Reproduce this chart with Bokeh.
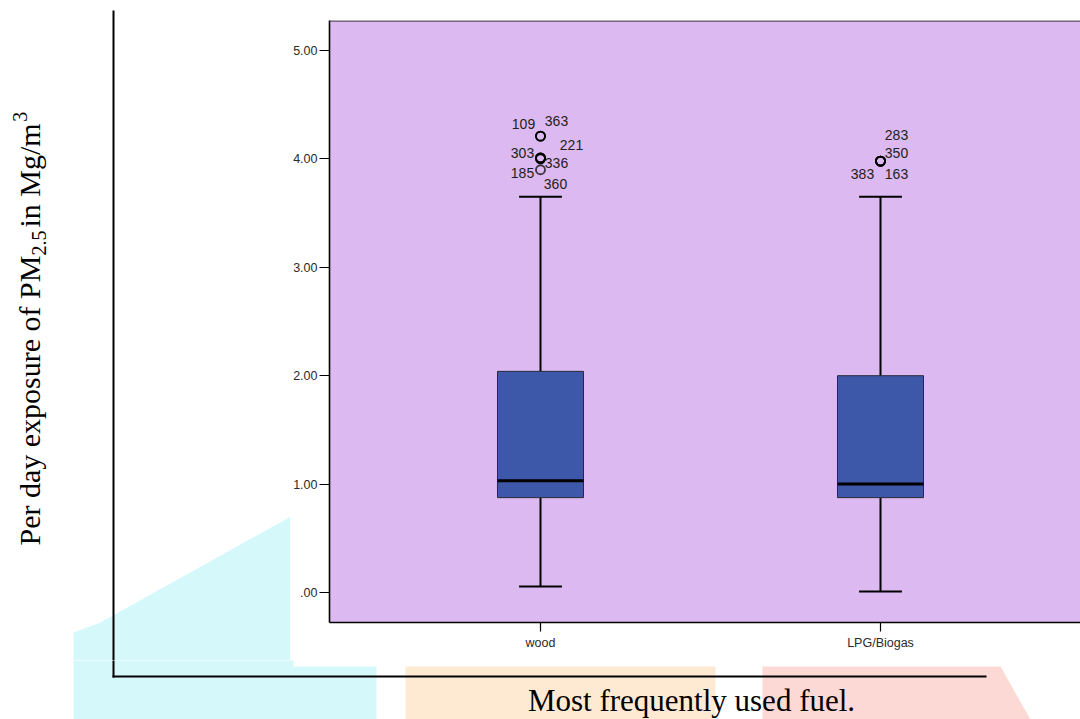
import math
from bokeh.plotting import figure
from bokeh.layouts import column, row
from bokeh.models import Range1d, FixedTicker, Arrow, ColumnDataSource
from bokeh.embed import file_html
from bokeh.resources import INLINE
from bokeh.core.properties import value

# ---------------- data ----------------
categories = ["wood", "LPG/Biogas"]
q1 = [0.875, 0.875]
median = [1.03, 1.00]
q3 = [2.04, 2.00]
whisker_low = [0.055, 0.01]
whisker_high = [3.65, 3.65]

outlier_group = [0, 0, 0, 0, 0, 0, 0, 1, 1, 1, 1]
outlier_id = ["109", "363", "221", "303", "336", "185", "360", "283", "350", "383", "163"]
outlier_value = [4.21, 4.21, 4.01, 4.01, 4.00, 3.90, 3.90, 3.98, 3.98, 3.98, 3.98]

y_ticks = [0, 1, 2, 3, 4, 5]
y_tick_labels = [".00", "1.00", "2.00", "3.00", "4.00", "5.00"]

x_title = "Most frequently used fuel."
y_title_parts = ["Per day exposure of PM", "2.5", " in Mg/m", "3"]

# ---------------- layout / style ----------------
label_dx = [-17, 16, 31, -18, 16, -18, 15, 16, 16, -18, 16]
label_dy = [-12, -15, -13, -5, 4, 3, 14, -26, -8, 13, 13]
circle_alpha = [1, 1, 1, 1, 1, 0.45, 0.45, 1, 1, 1, 1]

TOTAL_W, TOTAL_H = 1080, 719
SPLIT_X, SPLIT_Y = 290, 660          # page split between panels

FRAME_L, FRAME_T, FRAME_B, FRAME_R = 329, 20, 622, 1080
PX_X0, PX_PER_X = 540.0, 340.0      # page x of first category, px per category
PX_Y0, PX_PER_Y = 592.0, 108.4      # page y of value 0, px per unit


def dx(px):
    return (px - PX_X0) / PX_PER_X


def dy(py):
    return (PX_Y0 - py) / PX_PER_Y


BG = "#DDB9F1"
BOX = "#3D58A8"
CYAN = "#D5F9FB"
ORANGE = "#FEEAD3"
PINK = "#FCD9D4"

# ================= main chart =================
p = figure(width=TOTAL_W - SPLIT_X, height=SPLIT_Y,
           x_range=Range1d(dx(FRAME_L), dx(FRAME_R)), y_range=Range1d(dy(FRAME_B), dy(FRAME_T)),
           output_backend="svg", toolbar_location=None, frame_align=False,
           min_border_left=FRAME_L - SPLIT_X, min_border_right=0,
           min_border_top=FRAME_T, min_border_bottom=SPLIT_Y - FRAME_B,
           background_fill_color=BG, border_fill_color="white", outline_line_color=None)
p.grid.visible = False

xs = list(range(len(categories)))

p.yaxis.ticker = FixedTicker(ticks=y_ticks)
p.yaxis.major_label_overrides = {t: l for t, l in zip(y_ticks, y_tick_labels)}
p.xaxis.ticker = FixedTicker(ticks=xs)
p.xaxis.major_label_overrides = {i: c for i, c in zip(xs, categories)}
for ax in (p.xaxis[0], p.yaxis[0]):
    ax.minor_tick_line_color = None
    ax.major_tick_in = 0
    ax.axis_line_color = "black"
    ax.axis_line_width = 1.6
    ax.major_tick_line_color = "black"
    ax.major_tick_line_width = 1.2
    ax.major_label_text_font = "Liberation Sans"
    ax.major_label_text_font_size = "12.5px"
    ax.major_label_text_color = "#2a2a2a"
p.yaxis.major_tick_out = 10
p.yaxis.major_label_standoff = 2
p.xaxis.major_tick_out = 9
p.xaxis.major_label_standoff = 4

# frame top border
p.add_layout(Arrow(end=None, x_start=dx(FRAME_L), y_start=dy(FRAME_T + 0.5),
                   x_end=dx(FRAME_R), y_end=dy(FRAME_T + 0.5),
                   line_color="#555555", line_width=1.5))

src = ColumnDataSource(dict(x=xs, q1=q1, med=median, q3=q3, lo=whisker_low, hi=whisker_high))
BW, CW = 0.253, 0.126
p.segment(x0="x", y0="q3", x1="x", y1="hi", source=src, line_color="black", line_width=2)
p.segment(x0="x", y0="q1", x1="x", y1="lo", source=src, line_color="black", line_width=2)
p.segment(x0=[x - CW / 2 for x in xs], y0=whisker_high, x1=[x + CW / 2 for x in xs],
          y1=whisker_high, line_color="black", line_width=2)
p.segment(x0=[x - CW / 2 for x in xs], y0=whisker_low, x1=[x + CW / 2 for x in xs],
          y1=whisker_low, line_color="black", line_width=2)
p.vbar(x="x", width=BW, bottom="q1", top="q3", source=src,
       fill_color=BOX, line_color="#2a2a3a", line_width=1)
p.segment(x0=[x - BW / 2 for x in xs], y0=median, x1=[x + BW / 2 for x in xs], y1=median,
          line_color="black", line_width=3)

osrc = ColumnDataSource(dict(x=outlier_group, y=outlier_value, t=outlier_id,
                             dx=label_dx, dy=label_dy, a=circle_alpha))
p.scatter(x="x", y="y", source=osrc, marker="circle", size=9, fill_alpha=0,
          line_color="black", line_width=1.8, line_alpha="a")
p.text(x="x", y="y", text="t", x_offset="dx", y_offset="dy", source=osrc,
       text_align="center", text_baseline="middle", text_font=value("Liberation Sans"),
       text_font_size="14px", text_color="#222222")


# ================= decoration panels =================
def deco_fig(w, h):
    f = figure(width=w, height=h, x_range=Range1d(0, w), y_range=Range1d(0, h),
               output_backend="svg", toolbar_location=None, min_border=0,
               frame_align=False,
               x_axis_location=None, y_axis_location=None,
               background_fill_color="white", border_fill_color="white",
               outline_line_color=None)
    f.grid.visible = False
    return f


# left panel: page x 0..SPLIT_X, page y 0..SPLIT_Y
L = deco_fig(SPLIT_X, SPLIT_Y)
ly = lambda py: SPLIT_Y - py
L.patch([73, 73, 100, SPLIT_X + 2, SPLIT_X + 2],
        [ly(SPLIT_Y + 2), ly(632), ly(622), ly(515), ly(SPLIT_Y + 2)],
        fill_color=CYAN, line_color=None)
L.line([113, 113], [ly(10), ly(SPLIT_Y + 2)], line_color="black", line_width=2)

S, s = 30, 20
w1 = 9.665 * S
w2 = 1.25 * s
w3 = 3.723 * S
st0 = 545
st1 = st0 - w1
st2 = st1 - w2 - 3
st3 = st2 - w3 + 6
starts = [st0, st1, st2, st3]
bx = [29, 38, 29, 19]
sizes = [S, s, S, s]
L.text(x=bx, y=[ly(v) for v in starts], text=y_title_parts, angle=math.pi / 2,
       text_align="left", text_baseline="alphabetic",
       text_font=value("Liberation Serif"), text_font_size=[f"{z}px" for z in sizes],
       text_color="black")

# bottom panel: page x 0..TOTAL_W, page y SPLIT_Y..TOTAL_H
B = deco_fig(TOTAL_W, TOTAL_H - SPLIT_Y)
by = lambda py: TOTAL_H - py
B.patch([73, 293, 293, 376, 376, 73],
        [by(SPLIT_Y - 2), by(SPLIT_Y - 2), by(666), by(666), by(TOTAL_H), by(TOTAL_H)],
        fill_color=CYAN, line_color=None)
B.patch([405, 715, 715, 405], [by(666), by(666), by(TOTAL_H), by(TOTAL_H)],
        fill_color=ORANGE, line_color=None)
B.patch([762, 1000, 1030, 762], [by(666), by(666), by(TOTAL_H), by(TOTAL_H)],
        fill_color=PINK, line_color=None)
B.line([113, 113], [by(SPLIT_Y - 2), by(677)], line_color="black", line_width=2)
B.line([112, 986], [by(676), by(676)], line_color="black", line_width=2)
B.text(x=[691], y=[by(700)], text=[x_title], text_align="center",
       text_baseline="alphabetic", text_font=value("Liberation Serif"),
       text_font_size="31px", text_color="black")

layout = column(row(L, p, spacing=0), B, spacing=0)

open("out.html", "w").write(file_html(layout, INLINE))
